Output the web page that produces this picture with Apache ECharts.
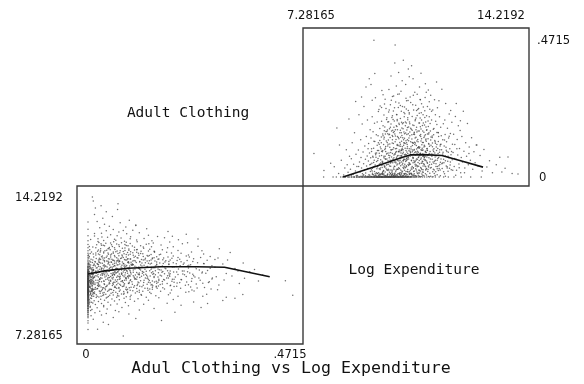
<!DOCTYPE html>
<html>
<head>
<meta charset="utf-8">
<script src="https://cdn.jsdelivr.net/npm/echarts@6/dist/echarts.min.js"></script>
<style>
  html, body { margin: 0; padding: 0; background: #fff; }
  #chart { width: 584px; height: 384px; }
</style>
</head>
<body>
<div id="chart"></div>
<script>
// Variable ranges and their printed end labels
const logExpRange = [7.28165, 14.2192];
const clothRange = [0, 0.4715];
const logExpTicks = ['7.28165', '14.2192'];
const clothTicks = ['0', '.4715'];
const varNames = ['Adult Clothing', 'Log Expenditure'];
const titleText = 'Adul Clothing vs Log Expenditure';

// Households with no adult clothing spending: log expenditure only
const zeroShareLogExp = [
  7.61, 7.93, 8.04, 8.19, 8.26, 8.33, 8.35, 8.43, 8.46, 8.5, 8.56, 8.57, 8.63, 8.65, 8.66, 8.72,
  8.74, 8.75, 8.8, 8.82, 8.83, 8.87, 8.9, 8.92, 8.94, 8.95, 8.99, 9.01, 9.03, 9.05, 9.07, 9.09,
  9.11, 9.12, 9.14, 9.16, 9.18, 9.19, 9.21, 9.23, 9.25, 9.26, 9.28, 9.3, 9.31, 9.33, 9.35, 9.36,
  9.38, 9.4, 9.41, 9.43, 9.45, 9.46, 9.48, 9.5, 9.51, 9.53, 9.55, 9.56, 9.58, 9.6, 9.61, 9.63,
  9.65, 9.66, 9.68, 9.7, 9.72, 9.73, 9.75, 9.77, 9.79, 9.81, 9.83, 9.85, 9.87, 9.89, 9.91, 9.93,
  9.95, 9.97, 9.99, 10.01, 10.04, 10.06, 10.09, 10.11, 10.14, 10.16, 10.19, 10.22, 10.25, 10.28,
  10.31, 10.34, 10.37, 10.41, 10.45, 10.49, 10.53, 10.57, 10.62, 10.67, 10.72, 10.78, 10.84, 10.9,
  10.97, 11.04, 11.12, 11.21, 11.3, 11.41, 11.54, 11.69, 11.85, 12.04, 12.29, 12.61, 12.97,
  9.34, 9.47, 9.59, 9.62, 9.74, 9.78, 9.86, 9.9, 9.94, 9.98, 10.02, 10.07, 10.13, 10.18, 10.21, 10.26,
  10.33, 10.39, 10.44, 10.51, 10.6, 10.69, 9.52, 9.67, 9.81, 10.0, 10.1, 10.24, 10.35, 10.47, 9.44,
  9.57, 9.7, 9.88, 10.03, 10.15, 10.29, 10.43, 10.56, 10.75
];

// Households spending only a sliver on adult clothing: [log expenditure, share]
const smallShare = [
  [9.52,.003],[10.12,.006],[9.87,.002],[10.45,.008],[9.33,.004],[10.71,.005],[9.95,.009],[10.28,.001],
  [9.64,.007],[11.02,.004],[10.05,.003],[9.18,.006],[10.58,.002],[9.77,.005],[10.36,.008],[11.25,.003],
  [9.41,.001],[10.83,.006],[9.99,.004],[10.19,.009],[8.88,.003],[10.62,.007],[9.58,.002],[11.4,.005],
  [10.01,.008],[9.71,.004],[10.49,.003],[9.27,.009],[10.93,.002],[10.24,.006],[9.83,.001],[11.11,.007],
  [9.47,.005],[10.41,.004],[8.97,.008],[10.77,.003],[9.91,.006],[10.15,.002],[9.61,.009],[11.58,.004],
  [10.32,.005],[9.12,.003],[10.67,.007],[9.8,.002],[10.09,.008],[9.38,.006],[10.88,.001],[9.69,.005],
  [10.53,.009],[11.75,.003],[9.03,.004],[10.21,.007],[9.93,.002],[10.98,.006],[9.55,.008],[10.39,.003],
  [8.72,.005],[11.18,.002],[9.85,.007],[10.74,.004],[12.1,.006],[9.23,.002],[10.6,.009],[9.97,.005],
  [11.33,.001],[10.3,.004],[9.49,.007],[10.86,.003],[8.55,.006],[11.47,.008],
  [9.89,.011],[10.07,.004],[10.26,.01],[9.62,.012],[10.52,.011],[9.74,.003],[10.17,.012],[10.42,.01],
  [9.36,.011],[10.65,.004],[9.96,.012],[10.34,.011],[9.51,.01],[10.8,.012],[10.03,.006],[9.79,.01],
  [10.13,.011],[10.47,.002],[9.59,.011],[10.95,.01],[9.3,.008],[10.55,.012],[9.66,.01],[10.22,.003],
  [11.07,.011],[9.43,.012],[10.04,.01],[10.69,.011],[9.92,.007],[10.38,.012]
];

// Households with positive spending: [log expenditure, adult clothing share]
const households = [
  [7.28,.081],[7.62,.022],[7.85,.047],[8.06,.169],[8.12,.012],[8.21,.058],[8.33,.031],[8.38,.094],
  [8.47,.2],[8.44,.016],[8.29,.007],[7.97,.035],[8.49,.071],[8.15,.11],[8.41,.042],
  [8.52,.027],[8.55,.063],[8.58,.118],[8.61,.009],[8.63,.044],[8.66,.152],[8.69,.021],[8.71,.078],
  [8.74,.036],[8.76,.005],[8.79,.093],[8.81,.214],[8.83,.052],[8.85,.017],[8.87,.128],[8.88,.067],
  [8.9,.031],[8.92,.182],[8.93,.011],[8.95,.086],[8.97,.046],[8.98,.243],[9.0,.024],[9.01,.107],
  [9.03,.061],[9.04,.014],[9.06,.139],[9.07,.038],[9.09,.072],[9.1,.196],[9.11,.029],[9.13,.055],
  [9.14,.115],[9.15,.008],[9.17,.083],[9.18,.042],[9.19,.163],[9.2,.019],[8.9,.275],[9.05,.31],
  [8.7,.26],[9.16,.338],[8.95,.004],[9.12,.097],[8.8,.036],
  [9.21,.066],[9.22,.134],[9.23,.025],[9.24,.088],[9.25,.047],[9.26,.207],[9.27,.013],[9.28,.071],
  [9.29,.156],[9.3,.034],[9.31,.099],[9.32,.471],[9.33,.058],[9.34,.019],[9.35,.122],[9.36,.041],
  [9.37,.273],[9.38,.077],[9.39,.006],[9.4,.145],[9.41,.053],[9.42,.028],[9.43,.189],[9.44,.091],
  [9.45,.037],[9.46,.064],[9.47,.118],[9.48,.015],[9.49,.232],[9.5,.082],[9.51,.045],[9.52,.167],
  [9.53,.026],[9.54,.103],[9.55,.059],[9.56,.011],[9.57,.138],[9.58,.074],[9.59,.298],[9.6,.033],
  [9.61,.087],[9.62,.052],[9.63,.176],[9.64,.021],[9.65,.112],[9.66,.066],[9.67,.039],[9.68,.251],
  [9.69,.095],[9.7,.017],[9.71,.148],[9.72,.061],[9.73,.03],[9.74,.124],[9.75,.079],[9.76,.204],
  [9.77,.043],[9.78,.009],[9.79,.107],[9.8,.056],
  [9.22,.318],[9.35,.356],[9.47,.225],[9.58,.192],[9.63,.283],[9.44,.012],[9.52,.007],[9.69,.035],
  [9.75,.025],[9.31,.05],[9.41,.083],[9.56,.097],[9.66,.131],[9.78,.162],[9.27,.03],[9.39,.068],
  [9.5,.113],[9.61,.049],[9.72,.088],[9.8,.022],[9.34,.185],[9.46,.142],[9.59,.04],[9.7,.071],
  [9.26,.264],[9.53,.244],[9.67,.159],[9.77,.119],[9.43,.034],[9.62,.018],
  [9.81,.127],[9.82,.044],[9.83,.083],[9.84,.231],[9.85,.016],[9.86,.102],[9.87,.058],[9.88,.171],
  [9.89,.037],[9.9,.094],[9.91,.264],[9.92,.069],[9.93,.024],[9.94,.143],[9.95,.081],[9.96,.049],
  [9.97,.198],[9.98,.115],[9.99,.031],[10.0,.076],[10.01,.157],[10.02,.052],[10.03,.392],[10.04,.454],
  [10.05,.097],[10.06,.018],[10.07,.129],[10.08,.063],[10.09,.215],[10.1,.041],[10.11,.108],[10.12,.072],
  [10.13,.285],[10.14,.027],[10.15,.136],[10.16,.088],[10.17,.055],[10.18,.181],[10.19,.013],[10.2,.119],
  [10.21,.066],[10.22,.246],[10.23,.039],[10.24,.092],[10.25,.152],[10.26,.074],[10.27,.021],[10.28,.331],
  [10.29,.104],[10.3,.047],[10.31,.166],[10.32,.085],[10.33,.029],[10.34,.222],[10.35,.061],[10.36,.133],
  [10.37,.011],[10.38,.099],[10.39,.189],[10.4,.053],[10.41,.271],[10.42,.077],[10.43,.035],[10.44,.146],
  [10.45,.112],[10.46,.019],[10.47,.204],[10.48,.068],[10.49,.372],[10.5,.125],
  [9.83,.301],[9.88,.012],[9.92,.158],[9.97,.062],[10.02,.238],[10.06,.084],[10.1,.174],[10.14,.109],
  [10.19,.046],[10.23,.137],[10.27,.095],[10.31,.056],[10.35,.207],[10.39,.032],[10.43,.118],[10.47,.081],
  [9.85,.147],[9.9,.05],[9.95,.211],[10.0,.026],[10.05,.163],[10.09,.098],[10.13,.057],[10.17,.255],
  [10.21,.015],[10.25,.071],[10.29,.183],[10.33,.128],[10.37,.044],[10.41,.091],[10.45,.06],[10.49,.229],
  [9.86,.073],[9.94,.117],[10.03,.036],[10.11,.194],[10.2,.087],[10.28,.042],[10.36,.149],[10.44,.065],
  [9.82,.19],[9.9,.348],[9.99,.279],[10.08,.313],[10.16,.36],[10.24,.295],[10.32,.402],[10.4,.318],
  [10.48,.263],[9.96,.139],[10.04,.079],[10.12,.027],[10.22,.113],[10.3,.08],[10.38,.059],[10.46,.17],
  [9.87,.024],[10.07,.048],[10.18,.093],[10.26,.123],[10.34,.038],[10.42,.186],[10.5,.04],
  [10.51,.09],[10.52,.217],[10.53,.047],[10.54,.142],[10.55,.071],[10.56,.023],[10.57,.168],[10.58,.104],
  [10.59,.058],[10.6,.383],[10.61,.131],[10.62,.036],[10.63,.087],[10.64,.249],[10.65,.064],[10.66,.116],
  [10.67,.019],[10.68,.177],[10.69,.095],[10.7,.051],[10.71,.292],[10.72,.134],[10.73,.076],[10.74,.028],
  [10.75,.203],[10.76,.108],[10.77,.062],[10.78,.155],[10.79,.039],[10.8,.089],[10.81,.232],[10.82,.121],
  [10.83,.014],[10.84,.069],[10.85,.186],[10.86,.099],[10.87,.046],[10.88,.143],[10.89,.267],[10.9,.082],
  [10.91,.033],[10.92,.124],[10.93,.065],[10.94,.196],[10.95,.111],[10.96,.054],[10.97,.017],[10.98,.158],
  [10.99,.093],[11.0,.241],[11.01,.072],[11.02,.136],[11.03,.043],[11.04,.179],[11.05,.106],[11.06,.059],
  [11.07,.321],[11.08,.127],[11.09,.027],[11.1,.084],[11.11,.211],[11.12,.097],[11.13,.05],[11.14,.148],
  [11.15,.075],[11.16,.193],[11.17,.038],[11.18,.115],[11.19,.066],[11.2,.259],
  [10.53,.189],[10.58,.013],[10.62,.161],[10.67,.078],[10.72,.044],[10.77,.229],[10.81,.101],[10.86,.057],
  [10.91,.146],[10.95,.026],[11.0,.119],[11.04,.068],[11.09,.172],[11.13,.091],[11.18,.034],[10.55,.275],
  [10.64,.118],[10.73,.198],[10.82,.05],[10.9,.173],[10.99,.038],[11.07,.089],[11.16,.132],[10.57,.085],
  [10.66,.032],[10.75,.137],[10.84,.104],[10.93,.221],[11.02,.061],[11.11,.029],[11.19,.152],[10.6,.056],
  [10.69,.154],[10.78,.083],[10.87,.31],[10.96,.092],[11.05,.205],[11.14,.047],[10.52,.345],[10.65,.338],
  [10.79,.285],[10.92,.357],[11.06,.274],[11.17,.299],[10.7,.12],[10.85,.024],[10.98,.071],[11.12,.163],
  [11.21,.106],[11.22,.052],[11.23,.184],[11.24,.031],[11.26,.138],[11.27,.079],[11.28,.226],[11.3,.061],
  [11.31,.117],[11.32,.018],[11.34,.164],[11.35,.088],[11.36,.047],[11.38,.266],[11.39,.126],[11.4,.069],
  [11.42,.192],[11.43,.036],[11.44,.103],[11.46,.153],[11.47,.058],[11.48,.238],[11.5,.081],[11.51,.022],
  [11.52,.139],[11.54,.074],[11.55,.207],[11.56,.043],[11.58,.112],[11.59,.171],[11.6,.062],[11.62,.094],
  [11.63,.302],[11.64,.029],[11.66,.128],[11.67,.085],[11.68,.183],[11.7,.049],[11.71,.107],[11.72,.011],
  [11.74,.146],[11.75,.072],[11.76,.253],[11.78,.038],[11.79,.121],[11.8,.088],[11.82,.168],[11.83,.054],
  [11.84,.02],[11.86,.134],[11.87,.066],[11.88,.217],[11.9,.097],[11.91,.041],[11.92,.15],[11.94,.077],
  [11.95,.025],[11.97,.188],[11.98,.059],[11.99,.113],
  [11.25,.281],[11.45,.327],[11.33,.093],[11.57,.024],[11.69,.061],[11.81,.035],[11.93,.229],[11.37,.012],
  [11.49,.098],[11.61,.142],[11.73,.196],[11.85,.085],[11.41,.058],[11.53,.262],[11.65,.048],[11.77,.102],
  [11.89,.03],
  [12.01,.084],[12.03,.147],[12.05,.036],[12.07,.112],[12.09,.208],[12.11,.061],[12.13,.023],[12.15,.129],
  [12.17,.076],[12.19,.176],[12.21,.045],[12.23,.098],[12.25,.16],[12.27,.015],[12.29,.067],[12.31,.139],
  [12.33,.052],[12.36,.226],[12.38,.089],[12.41,.031],[12.44,.118],[12.47,.071],[12.5,.184],[12.53,.042],
  [12.56,.103],[12.6,.058],[12.64,.135],[12.68,.027],[12.72,.087],[12.76,.049],[12.8,.11],[12.12,.253],
  [12.26,.194],[12.4,.015],[12.55,.081],
  [12.82,.11],[12.86,.038],[12.93,.074],[13.0,.021],[13.06,.095],[13.16,.034],[13.25,.056],[13.35,.015],
  [13.48,.042],[13.6,.068],[13.67,.017],[13.78,.03],[13.88,.069],[14.02,.012],[14.22,.01]
];

// The bulk of spenders: middle incomes, modest clothing shares
const coreHouseholds = [
  [9.51,.072],[9.54,.031],[9.57,.118],[9.6,.054],[9.62,.091],[9.65,.022],[9.67,.137],[9.7,.063],
  [9.72,.105],[9.74,.041],[9.77,.082],[9.79,.149],[9.81,.027],[9.84,.066],[9.86,.114],[9.88,.048],
  [9.91,.093],[9.93,.016],[9.95,.128],[9.97,.059],[9.99,.101],[10.01,.037],[10.03,.079],[10.05,.141],
  [10.07,.023],[10.09,.068],[10.11,.112],[10.13,.045],[10.15,.087],[10.17,.132],[10.19,.029],[10.21,.073],
  [10.23,.106],[10.25,.052],[10.27,.143],[10.29,.018],[10.31,.094],[10.33,.061],[10.35,.117],[10.37,.034],
  [10.39,.078],[10.41,.125],[10.43,.057],[10.45,.098],[10.47,.026],[10.49,.069],[10.51,.134],[10.53,.043],
  [10.55,.089],[10.57,.121],[10.59,.031],[10.61,.076],[10.63,.108],[10.65,.049],[10.67,.147],[10.69,.021],
  [10.71,.084],[10.73,.117],[10.75,.058],[10.77,.096],[10.79,.035],[10.81,.129],[10.83,.067],[10.85,.103],
  [10.87,.014],[10.89,.081],[10.91,.139],[10.93,.047],[10.95,.092],[10.97,.119],[10.99,.025],[11.01,.073],
  [11.03,.109],[11.05,.038],[11.07,.086],[11.09,.131],[11.11,.055],[11.13,.098],[11.15,.019],[11.17,.077],
  [11.19,.113],[11.21,.042],[11.23,.088],[11.25,.127],[11.27,.033],[11.29,.071],[11.31,.104],[11.33,.052],
  [11.35,.145],[11.37,.024],[11.39,.083],[11.41,.116],[11.43,.046],[11.45,.091],[11.47,.028],[11.49,.064],
  [11.51,.122],[11.53,.039],[11.55,.085],[11.57,.107],
  [9.52,.126],[9.55,.048],[9.58,.089],[9.61,.015],[9.63,.142],[9.66,.071],[9.68,.034],[9.71,.099],
  [9.73,.157],[9.76,.062],[9.78,.024],[9.8,.113],[9.82,.075],[9.85,.038],[9.87,.136],[9.89,.084],
  [9.92,.057],[9.94,.021],[9.96,.095],[9.98,.153],[10.0,.066],[10.02,.013],[10.04,.121],[10.06,.052],
  [10.08,.088],[10.1,.027],[10.12,.139],[10.14,.074],[10.16,.032],[10.18,.107],[10.2,.049],[10.22,.161],
  [10.24,.083],[10.26,.014],[10.28,.097],[10.3,.135],[10.32,.056],[10.34,.118],[10.36,.023],[10.38,.072],
  [10.4,.151],[10.42,.039],[10.44,.086],[10.46,.128],[10.48,.017],[10.5,.062],[10.52,.097],[10.54,.155],
  [10.56,.044],[10.58,.077],[10.6,.012],[10.62,.119],[10.64,.068],[10.66,.031],[10.68,.092],[10.7,.146],
  [10.72,.053],[10.74,.087],[10.76,.024],[10.78,.124],[10.8,.061],[10.82,.101],[10.84,.037],[10.86,.158],
  [10.88,.073],[10.9,.021],[10.92,.094],[10.94,.132],[10.96,.048],[10.98,.079],[11.0,.016],[11.02,.103],
  [11.04,.141],[11.06,.057],[11.08,.035],[11.1,.123],[11.12,.069],[11.14,.092],[11.16,.026],[11.18,.148],
  [11.2,.081],[11.22,.013],[11.24,.062],[11.26,.109],[11.28,.044],[11.3,.136],[11.32,.078],[11.34,.027],
  [11.36,.097],[11.38,.054],[11.4,.121],[11.42,.018],[11.44,.073],[11.46,.112],[11.48,.036],[11.5,.153],
  [11.52,.067],[11.54,.029],[11.56,.094],[11.58,.051],
  [9.21,.044],[9.24,.097],[9.26,.021],[9.29,.068],[9.32,.123],[9.34,.036],[9.37,.082],[9.4,.015],
  [9.43,.109],[9.45,.057],[9.48,.091],[9.5,.028],[11.6,.113],[11.63,.046],[11.66,.079],[11.69,.018],
  [11.72,.127],[11.75,.056],[11.78,.092],[11.81,.031],[11.84,.071],[11.88,.14],[11.92,.052],[11.96,.088],
  [12.0,.023],[12.06,.064],[12.14,.097],[12.22,.032],
  [10.21,.058],[10.26,.091],[10.31,.033],[10.36,.077],[10.41,.019],[10.46,.104],[10.51,.049],[10.56,.083],
  [10.61,.027],[10.66,.066],[10.71,.112],[10.76,.041],[10.81,.078],[10.86,.022],[10.91,.061],[10.96,.099],
  [11.01,.046],[11.06,.071],[10.23,.024],[10.33,.109],[10.43,.064],[10.53,.018],[10.63,.093],[10.73,.038],
  [10.83,.085],[10.93,.029],[11.03,.066],[10.28,.068],[10.38,.115],[10.48,.043],[10.58,.096],[10.68,.056],
  [10.78,.017],[10.88,.102],[10.98,.053],[11.08,.024]
];

// Upper part of the main cloud: shares between about .14 and .29
const upperCore = [
  [9.62,.148],[9.66,.213],[9.69,.172],[9.73,.236],[9.76,.157],[9.79,.189],[9.82,.224],[9.85,.166],
  [9.88,.249],[9.9,.182],[9.93,.205],[9.96,.161],[9.98,.227],[10.01,.193],[10.03,.148],[10.06,.258],
  [10.08,.176],[10.1,.214],[10.12,.163],[10.15,.239],[10.17,.185],[10.2,.152],[10.22,.201],[10.25,.226],
  [10.27,.169],[10.29,.243],[10.32,.187],[10.34,.155],[10.37,.218],[10.39,.176],[10.42,.234],[10.44,.162],
  [10.47,.197],[10.49,.149],[10.52,.221],[10.54,.183],[10.57,.256],[10.59,.164],[10.62,.208],[10.64,.179],
  [10.67,.231],[10.69,.151],[10.72,.194],[10.74,.247],[10.77,.171],[10.79,.212],[10.82,.158],[10.84,.236],
  [10.87,.186],[10.89,.203],[10.92,.165],[10.94,.252],[10.97,.177],[10.99,.214],[11.02,.154],[11.05,.228],
  [11.08,.189],[11.11,.161],[11.14,.243],[11.17,.174],[11.2,.207],[11.24,.158],[11.28,.196],[11.32,.231],
  [11.36,.167],[11.41,.214],[11.46,.181],[11.51,.152],[9.7,.268],[9.95,.277],[10.18,.286],[10.43,.262],
  [10.66,.281],[10.9,.266],[11.1,.292],[9.58,.239],[9.83,.145],[10.11,.198],[10.36,.241],[10.61,.145],
  [10.86,.219],[11.07,.145],[11.3,.141],[9.75,.198],[10.0,.171],[10.26,.188],[10.5,.172],[10.75,.163],
  [11.0,.186],[11.22,.233]
];

// Lowess smooths: clothing share on log expenditure, and log expenditure on clothing share
const lowessClothOnExp = [[8.27,0.0],[9.42,0.038],[10.3,0.068],[10.55,0.076],[11.0,0.077],[11.63,0.074],[12.3,0.055],[13.03,0.034]];
const lowessExpOnCloth = [[0,10.38],[0.038,10.53],[0.092,10.66],[0.168,10.74],[0.25,10.74],[0.314,10.71],[0.418,10.24]];

const allPoints = households
  .concat(coreHouseholds)
  .concat(upperCore)
  .concat(smallShare)
  .concat(zeroShareLogExp.map(v => [v, 0]));

// Pad an axis range so the extreme values sit inside the cell frame
function padded(range, lowFrac, highFrac) {
  const span = range[1] - range[0];
  return { min: range[0] - span * lowFrac, max: range[1] + span * highFrac };
}

const hiddenAxis = { type: 'value', show: false, splitLine: { show: false } };

const tickFont = { fontFamily: 'DejaVu Sans', fontSize: 11.6, fill: '#111' };
const nameFont = { fontFamily: 'DejaVu Sans Mono', fontSize: 14.5, fill: '#111' };

function txt(text, x, y, align, font) {
  return { type: 'text', x: x, y: y, silent: true,
    style: Object.assign({ text: text, align: align, verticalAlign: 'middle' }, font) };
}

const chart = echarts.init(document.getElementById('chart'), null, { renderer: 'canvas' });

const pointStyle = { color: '#3c3c3c', opacity: 0.75 };
const lineStyle = { color: '#111', width: 1.6 };

chart.setOption({
  animation: false,
  backgroundColor: '#fff',
  grid: [
    { left: 303, top: 28, width: 226, height: 158, show: true, borderColor: '#3a3a3a', borderWidth: 1.4, backgroundColor: 'transparent' },
    { left: 77, top: 186, width: 226, height: 158, show: true, borderColor: '#3a3a3a', borderWidth: 1.4, backgroundColor: 'transparent' }
  ],
  xAxis: [
    Object.assign({ gridIndex: 0 }, hiddenAxis, padded(logExpRange, 0.0539, 0.0539)),
    Object.assign({ gridIndex: 1 }, hiddenAxis, padded(clothRange, 0.0537, 0.0488))
  ],
  yAxis: [
    Object.assign({ gridIndex: 0 }, hiddenAxis, padded(clothRange, 0.0657, 0.0876)),
    Object.assign({ gridIndex: 1 }, hiddenAxis, padded(logExpRange, 0.0576, 0.0791))
  ],
  series: [
    { type: 'scatter', xAxisIndex: 0, yAxisIndex: 0, data: allPoints,
      symbol: 'circle', symbolSize: 1.5, itemStyle: pointStyle, silent: true },
    { type: 'scatter', xAxisIndex: 1, yAxisIndex: 1, data: allPoints.map(p => [p[1], p[0]]),
      symbol: 'circle', symbolSize: 1.5, itemStyle: pointStyle, silent: true },
    { type: 'line', xAxisIndex: 0, yAxisIndex: 0, data: lowessClothOnExp,
      showSymbol: false, lineStyle: lineStyle, silent: true },
    { type: 'line', xAxisIndex: 1, yAxisIndex: 1, data: lowessExpOnCloth,
      showSymbol: false, lineStyle: lineStyle, silent: true }
  ],
  graphic: [
    txt(logExpTicks[0], 311, 16, 'center', tickFont),
    txt(logExpTicks[1], 501, 16, 'center', tickFont),
    txt(clothTicks[1], 537, 41, 'left', tickFont),
    txt(clothTicks[0], 539, 178, 'left', tickFont),
    txt(logExpTicks[1], 63, 198, 'right', tickFont),
    txt(logExpTicks[0], 63, 336, 'right', tickFont),
    txt(clothTicks[0], 86, 355, 'center', tickFont),
    txt(clothTicks[1], 290, 355, 'center', tickFont),
    txt(varNames[0], 188, 113, 'center', nameFont),
    txt(varNames[1], 414, 270, 'center', nameFont),
    txt(titleText, 291, 369, 'center', { fontFamily: 'DejaVu Sans Mono', fontSize: 16.6, fill: '#111' })
  ]
});
</script>
</body>
</html>
